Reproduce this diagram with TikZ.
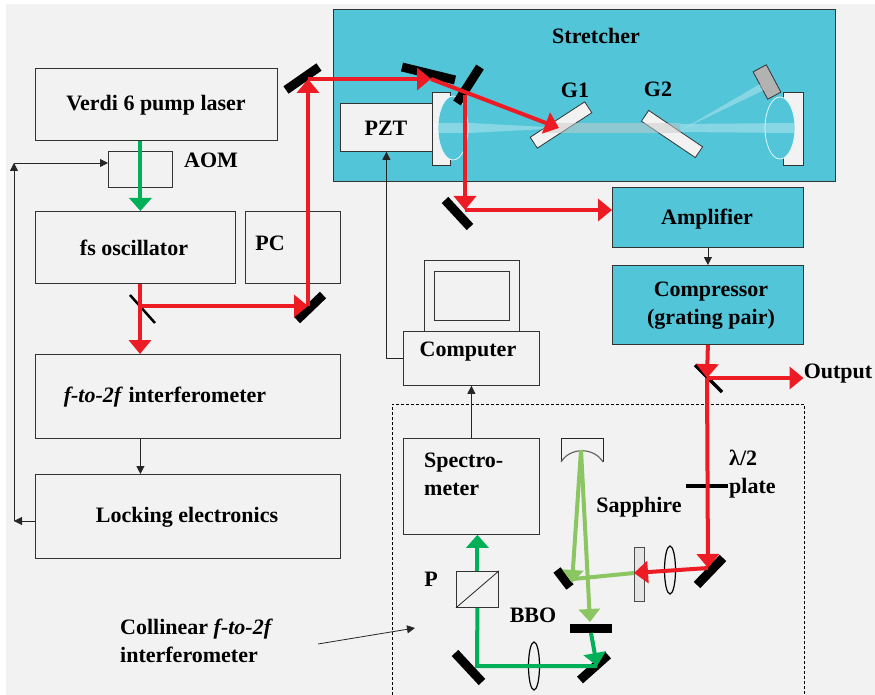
\documentclass[tikz,border=0pt]{standalone}
\usepackage{fontspec}
\setmainfont{Liberation Serif}
\usetikzlibrary{arrows.meta}

\definecolor{cyanbox}{RGB}{83,197,216}
\definecolor{paper}{RGB}{242,242,242}
\definecolor{redbeam}{RGB}{237,28,36}
\definecolor{greenbeam}{RGB}{0,176,88}
\definecolor{lightbeam}{RGB}{140,198,98}

\tikzset{
  lab/.style={font=\fontsize{22}{28}\selectfont\bfseries, align=center, inner sep=0pt},
  box/.style={draw=black!80, line width=0.8pt, fill=paper, anchor=north west, inner sep=0pt},
  tealbox/.style={box, fill=cyanbox},
  red arrow/.style={redbeam, line width=4pt, -{Triangle[length=14pt,width=22pt]}},
  green arrow/.style={greenbeam, line width=4pt, -{Triangle[length=13pt,width=22pt]}},
  green line/.style={greenbeam, line width=4pt},
  light arrow/.style={lightbeam, line width=4pt, -{Triangle[length=13pt,width=21pt]}},
  light line/.style={lightbeam, line width=4pt},
  thin arrow/.style={black!85, line width=0.8pt, -{Triangle[length=8pt,width=8pt]}},
  mirror/.style={line width=9pt},
  lens/.style={draw=black, line width=1.2pt, fill=none},
  glass/.style={fill=white, opacity=.3}
}

\begin{document}
\begin{tikzpicture}[x=1pt,y=-1pt]
  \useasboundingbox (0,0) rectangle (875,695);
  \fill [paper] (6,4) rectangle (875,695);

  % stretcher
  \node [tealbox, minimum width=502pt, minimum height=172pt] (stretcher) at (333,9) {};
  \node [lab] at (596,36) {Stretcher};
  \node [box, minimum width=92pt, minimum height=48pt] (pzt) at (340,103) {};
  \node [lab] at (386,128) {PZT};
  \node [box, minimum width=18pt, minimum height=73pt] (mountl) at (432,92) {};
  \node [box, minimum width=20pt, minimum height=73pt] (mountr) at (783,92) {};
  \draw [white!85!cyanbox, line width=0.8pt, fill=cyanbox] (453,128) ellipse (15 and 32);
  \draw [white!85!cyanbox, line width=0.8pt, fill=cyanbox] (780,128) ellipse (15 and 31);
  \node [box, anchor=center, rotate=33, minimum width=65pt, minimum height=13pt] (gone) at (561,125) {};
  \node [box, anchor=center, rotate=-34, minimum width=65pt, minimum height=13pt] (gtwo) at (672,134) {};
  \node [box, anchor=center, rotate=-62, fill=black!30, minimum width=31pt, minimum height=15pt] (roof) at (767,82) {};
  \node [lab] at (575,90) {G1};
  \node [lab] at (658,89) {G2};
  \fill [glass] (434,123) -- (470,123) -- (546,127) -- (546,129) -- (470,133) -- (434,133) -- cycle;
  \fill [black!20, opacity=.5] (546,123) rectangle (680,133);
  \fill [glass] (680,124) -- (795,123) -- (795,133) -- (680,132) -- cycle;
  \fill [glass] (683,129) -- (760,84) -- (764,90) -- cycle;

  % left column
  \node [box, minimum width=242pt, minimum height=72pt] (verdi) at (35,68) {};
  \node [lab] at (156,105) {Verdi 6 pump laser};
  \node [box, minimum width=64pt, minimum height=36pt] (aom) at (108,151) {};
  \node [lab] at (211,160) {AOM};
  \node [box, minimum width=200pt, minimum height=72pt] (osc) at (35,211) {};
  \node [lab] at (134,248) {fs oscillator};
  \node [box, minimum width=95pt, minimum height=72pt] (pc) at (245,211) {};
  \node [lab] at (270,243) {PC};
  \node [box, minimum width=305pt, minimum height=84pt] (ftwof) at (35,354) {};
  \node [lab] at (165,397) {\textit{f-to-2f} interferometer};
  \node [box, minimum width=305pt, minimum height=84pt] (lock) at (35,474) {};
  \node [lab] at (187,517) {Locking electronics};

  % right column
  \node [tealbox, minimum width=191pt, minimum height=60pt] (amp) at (612,187) {};
  \node [lab] at (707,219) {Amplifier};
  \node [tealbox, minimum width=191pt, minimum height=79pt] (comp) at (612,265) {};
  \node [lab] at (711,306) {Compressor\\(grating pair)};

  % computer
  \node [box, minimum width=95pt, minimum height=71pt] (screen) at (424,260) {};
  \node [box, minimum width=75pt, minimum height=49pt] at (434,271) {};
  \node [box, minimum width=136pt, minimum height=54pt] (comput) at (403,331) {};
  \node [lab] at (468,352) {Computer};

  % collinear interferometer
  \draw [black, line width=0.6pt, dash pattern=on 3pt off 2pt] (392,695) |- (804,404) -- (804,695);
  \node [box, minimum width=136pt, minimum height=96pt] (spec) at (403,438) {};
  \node [lab, align=left, anchor=west] at (424,474) {Spectro-\\meter};
  \node [box, minimum width=42pt, minimum height=36pt] (cube) at (456,571) {};
  \draw [black!85, line width=0.8pt] (cube.south west) -- (cube.north east);
  \draw [black!85, line width=0.8pt] (561,462) -- (561,438) -- (603,438) -- (603,462);
  \draw [black!60, line width=1.2pt] (561,462) .. controls (570,447) and (594,447) .. (603,462);
  \node [lab] (out) at (838,374) {Output};
  \node [lab, align=left, anchor=west] at (729,474) {λ/2\\plate};
  \node [lab] at (639,507) {Sapphire};
  \node [lab] at (431,579) {P};
  \node [lab] at (533,615) {BBO};
  \node [lab, align=left, anchor=west] (coll) at (120,641) {Collinear \textit{f-to-2f}\\interferometer};

  % optics
  \draw [mirror] (286,90) -- (319,67);
  \draw [mirror] (402,67) -- (455,80);
  \draw [mirror] (457,103) -- (480,67);
  \draw [mirror] (445,200) -- (470,227);
  \draw [mirror] (297,320) -- (323,295);
  \draw [line width=2.5pt] (130,295) -- (155,323);
  \draw [line width=3.5pt] (695,365) -- (722,392);
  \draw [line width=4pt] (686,486) -- (728,486);
  \draw [mirror] (697,585) -- (723,558);
  \draw [mirror] (557,570) -- (570,587);
  \draw [line width=9pt] (570,628) -- (612,628);
  \draw [mirror] (580,680) -- (608,655);
  \draw [mirror] (455,653) -- (482,682);
  \draw [lens] (670,570) ellipse (5.5 and 24);
  \draw [lens] (534,666) ellipse (5.5 and 24);
  \draw [black!70, fill=black!10, line width=0.8pt] (634,547) rectangle (644,601);

  % beam corners
  \coordinate (split) at (140,306);
  \coordinate (turn) at (308,306);
  \coordinate (top) at (308,79);
  \coordinate (bar) at (431,79);
  \coordinate (grate) at (559,128);
  \coordinate (back) at (465,95);
  \coordinate (low) at (465,210);
  \coordinate (hit) at (707,378);
  \coordinate (fold) at (708,568);
  \coordinate (crystal) at (634,573);
  \coordinate (curve) at (581,450);
  \coordinate (cross) at (572,583);
  \coordinate (down) at (477,666);
  \coordinate (right) at (597,666);
  \coordinate (feedback) at (14,521);
  \coordinate (corner) at (14,163);

  % red beams
  \draw [red arrow] (osc.south -| split) -- (ftwof.north -| split);
  \draw [red arrow] (split) -- (turn);
  \draw [red arrow] (turn) -- (top);
  \draw [red arrow] (top) -- (bar);
  \draw [red arrow] (bar) -- (grate);
  \draw [red arrow] (back) -- (low);
  \draw [red arrow] (low) -- (amp.west |- low);
  \draw [red arrow] (comp.south) -- (hit);
  \draw [red arrow] (hit) -- (out.west |- hit);
  \draw [red arrow] (hit) -- (fold);
  \draw [red arrow] (fold) -- (crystal);

  % green beams
  \draw [green arrow] (verdi.south -| aom) -- (osc.north -| aom);
  \draw [light line] (crystal) -- (573,579);
  \draw [light arrow] (curve) -- (cross);
  \draw [light arrow] (curve) -- (590,622);
  \draw [green arrow] (591,633) -- (right);
  \draw [green line] (right) -- (down) -- (cube.south);
  \draw [green arrow] (cube.north) -- (spec.south -| cube);

  % signal lines
  \draw [thin arrow] (ftwof.south -| aom) -- (lock.north -| aom);
  \draw [thin arrow] (lock.west |- feedback) -- (feedback);
  \draw [thin arrow] (feedback) -- (corner);
  \draw [thin arrow] (corner) -- (aom.west |- corner);
  \draw [thin arrow] (comput.west) -| (pzt.south);
  \draw [thin arrow] (spec.north) -- (comput.south);
  \draw [thin arrow] (amp.south) -- (comp.north);
  \draw [thin arrow] (318,644) -- (415,628);
\end{tikzpicture}
\end{document}
